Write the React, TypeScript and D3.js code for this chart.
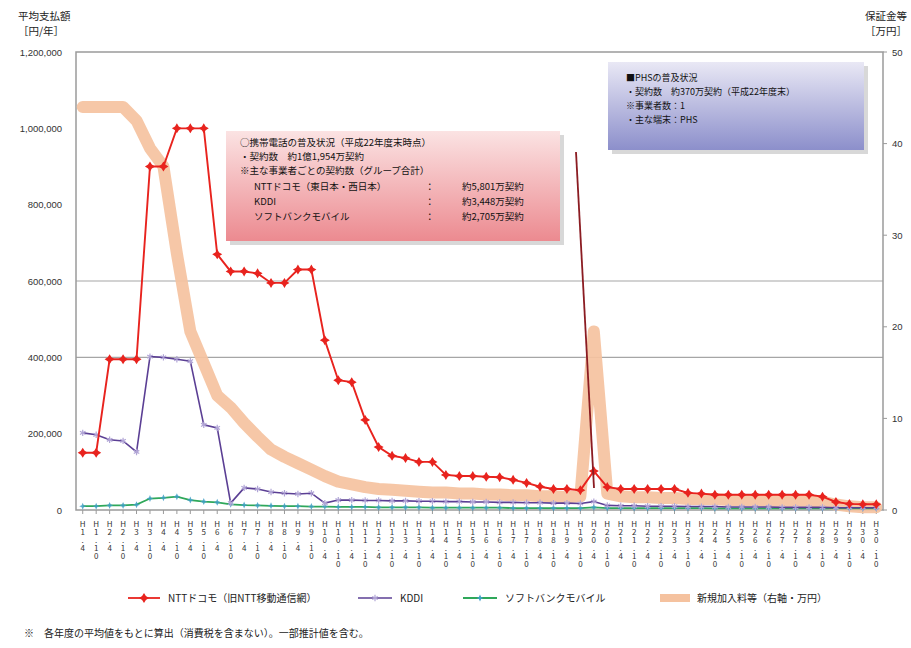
import React from 'react';
import * as d3 from 'd3';

// half-year points (April / October)
const periods = [
  'H1.4', 'H1.10', 'H2.4', 'H2.10', 'H3.4', 'H3.10', 'H4.4', 'H4.10', 'H5.4', 'H5.10',
  'H6.4', 'H6.10', 'H7.4', 'H7.10', 'H8.4', 'H8.10', 'H9.4', 'H9.10', 'H10.4', 'H10.10',
  'H11.4', 'H11.10', 'H12.4', 'H12.10', 'H13.4', 'H13.10', 'H14.4', 'H14.10', 'H15.4', 'H15.10',
  'H16.4', 'H16.10', 'H17.4', 'H17.10', 'H18.4', 'H18.10', 'H19.4', 'H19.10', 'H20.4', 'H20.10',
  'H21.4', 'H21.10', 'H22.4', 'H22.10', 'H23.4', 'H23.10', 'H24.4', 'H24.10', 'H25.4', 'H25.10',
  'H26.4', 'H26.10', 'H27.4', 'H27.10', 'H28.4', 'H28.10', 'H29.4', 'H29.10', 'H30.4', 'H30.10',
];

// left axis [円/年]
const docomo = [
  150000, 150000, 395000, 395000, 395000, 900000, 900000, 1000000, 1000000, 1000000,
  670000, 625000, 625000, 620000, 595000, 595000, 630000, 630000, 445000, 340000,
  335000, 236000, 165000, 142000, 136000, 126000, 126000, 92000, 89000, 89000,
  87000, 86000, 79000, 71000, 61000, 55000, 55000, 52000, 102000, 60000,
  55000, 55000, 55000, 55000, 55000, 45000, 43000, 40000, 40000, 40000,
  40000, 40000, 40000, 40000, 40000, 35000, 21000, 16000, 15000, 15000,
];
const kddi = [
  202000, 197000, 184000, 181000, 152000, 402000, 400000, 395000, 390000, 223000,
  215000, 18000, 58000, 55000, 47000, 44000, 42000, 44000, 18000, 26000,
  26000, 25000, 25000, 24000, 24000, 23000, 23000, 22000, 22000, 21000,
  21000, 20000, 20000, 19000, 19000, 18000, 18000, 17000, 22000, 12000,
  11000, 11000, 10000, 10000, 10000, 9000, 9000, 9000, 8000, 8000,
  8000, 8000, 7000, 7000, 7000, 7000, 6000, 6000, 6000, 6000,
];
const softbank = [
  10000, 10000, 12000, 12000, 14000, 30000, 32000, 35000, 26000, 22000,
  20000, 15000, 13000, 12000, 11000, 10000, 10000, 9000, 9000, 8000,
  8000, 8000, 7000, 7000, 7000, 7000, 6000, 6000, 6000, 6000,
  6000, 6000, 5000, 5000, 5000, 5000, 5000, 5000, 7000, 5000,
  5000, 5000, 5000, 5000, 5000, 5000, 5000, 4000, 4000, 4000,
  4000, 4000, 4000, 4000, 4000, 4000, 4000, 4000, 4000, 4000,
];
// right axis [万円]
const fee = [
  44.0, 44.0, 44.0, 44.0, 42.5, 39.5, 37.5, 28.0, 19.5, 16.0,
  12.5, 11.2, 9.5, 8.0, 6.6, 5.8, 5.1, 4.4, 3.7, 3.1,
  2.8, 2.5, 2.3, 2.2, 2.1, 2.0, 1.9, 1.9, 1.8, 1.8,
  1.7, 1.7, 1.6, 1.6, 1.5, 1.5, 1.4, 1.5, 19.5, 1.8,
  1.5, 1.4, 1.4, 1.3, 1.3, 1.2, 1.2, 1.2, 1.1, 1.1,
  1.1, 1.0, 1.0, 1.0, 1.0, 0.9, 0.6, 0.4, 0.3, 0.3,
];

const leftTicks = [0, 200000, 400000, 600000, 800000, 1000000, 1200000];
const rightTicks = [0, 10, 20, 30, 40, 50];
const gridValues = [400000, 600000];

const legendLabels = [
  'NTTドコモ（旧NTT移動通信網）',
  'KDDI',
  'ソフトバンクモバイル',
  '新規加入料等（右軸・万円）',
];

const redBoxLines = [
  '○携帯電話の普及状況（平成22年度末時点）',
  '・契約数　約1億1,954万契約',
  '※主な事業者ごとの契約数（グループ合計）',
];
const redBoxRows = [
  ['NTTドコモ（東日本・西日本）', '：', '約5,801万契約'],
  ['KDDI', '：', '約3,448万契約'],
  ['ソフトバンクモバイル', '：', '約2,705万契約'],
];
const blueBoxLines = [
  '■PHSの普及状況',
  '・契約数　約370万契約（平成22年度末）',
  '※事業者数：1',
  '・主な端末：PHS',
];

const JP = '"Noto Sans CJK JP", "Noto Sans", sans-serif';

const W = 911;
const H = 648;
const plot = { left: 76, right: 883, top: 52, bottom: 510 };

const starPath = (r: number, k: number) => {
  const i = r * k;
  return `M0,${-r}L${i},${-i}L${r},0L${i},${i}L0,${r}L${-i},${i}L${-r},0L${-i},${-i}Z`;
};

const App: React.FC = () => {
  const x = d3.scaleBand<string>().domain(periods).range([plot.left, plot.right]);
  const cx = (p: string) => (x(p) ?? 0) + x.bandwidth() / 2;
  const yL = d3.scaleLinear().domain([0, 1200000]).range([plot.bottom, plot.top]);
  const yR = d3.scaleLinear().domain([0, 50]).range([plot.bottom, plot.top]);

  const lineL = d3.line<number>().x((_, i) => cx(periods[i])).y(d => yL(d));
  const lineR = d3.line<number>().x((_, i) => cx(periods[i])).y(d => yR(d));

  const fmt = d3.format(',');
  const red = '#e8231e';
  const purple = '#5b3f94';
  const green = '#2fa85a';
  const orange = '#f5c29f';

  const star = starPath(5, 0.38);
  const smallStar = starPath(3.5, 0.3);
  const asterisk = d3.symbol(d3.symbolAsterisk, 28)() ?? '';

  return (
    <svg width={W} height={H} style={{ position: 'absolute', left: 0, top: 0, background: '#fff' }}
      fontFamily={JP}>
      <defs>
        <linearGradient id="redBox" x1="0" y1="0" x2="0" y2="1">
          <stop offset="0" stopColor="#fbe3e3" />
          <stop offset="1" stopColor="#ec8a90" />
        </linearGradient>
        <linearGradient id="blueBox" x1="0" y1="0" x2="0" y2="1">
          <stop offset="0" stopColor="#e9e8f5" />
          <stop offset="1" stopColor="#8c8fcb" />
        </linearGradient>
      </defs>

      {/* gridlines */}
      {gridValues.map(v => (
        <line key={v} x1={plot.left} x2={plot.right} y1={yL(v)} y2={yL(v)} stroke="#a6a6a6" strokeWidth={1.2} />
      ))}

      {/* frame */}
      <rect x={plot.left} y={plot.top} width={plot.right - plot.left} height={plot.bottom - plot.top}
        fill="none" stroke="#9a9a9a" strokeWidth={1.5} />

      {/* left ticks */}
      {leftTicks.map(t => (
        <text key={t} x={62} y={yL(t) + 3.5} textAnchor="end" fontSize={9.5} fill="#333"
          fontFamily="'Liberation Sans', Arial, sans-serif">{fmt(t)}</text>
      ))}
      {/* right ticks */}
      {rightTicks.map(t => (
        <g key={t}>
          <line x1={plot.right} x2={plot.right + 4} y1={yR(t)} y2={yR(t)} stroke="#9a9a9a" />
          <text x={892} y={yR(t) + 3.5} fontSize={9.5} fill="#333"
            fontFamily="'Liberation Sans', Arial, sans-serif">{t}</text>
        </g>
      ))}

      {/* axis titles */}
      <text x={18} y={20} fontSize={10.5} fill="#222">平均支払額</text>
      <text x={18} y={35} fontSize={10.5} fill="#222">［円/年］</text>
      <text x={907} y={20} fontSize={10.5} fill="#222" textAnchor="end">保証金等</text>
      <text x={907} y={35} fontSize={10.5} fill="#222" textAnchor="end">［万円］</text>

      {/* x ticks and labels */}
      {periods.map(p => (
        <g key={p}>
          <line x1={cx(p)} x2={cx(p)} y1={plot.bottom} y2={plot.bottom + 4} stroke="#9a9a9a" />
          <text x={cx(p)} y={plot.bottom + 10} fontSize={8} fill="#333"
            style={{ writingMode: 'vertical-rl', textOrientation: 'upright' } as React.CSSProperties}
            fontFamily={JP}>{p}</text>
        </g>
      ))}

      {/* series: right axis thick line */}
      <path d={lineR(fee) ?? ''} fill="none" stroke={orange} strokeWidth={12} strokeLinecap="round"
        strokeLinejoin="round" opacity={0.92} />

      {/* softbank */}
      <path d={lineL(softbank) ?? ''} fill="none" stroke={green} strokeWidth={1.8} />
      {softbank.map((v, i) => (
        <path key={i} d={smallStar} transform={`translate(${cx(periods[i])},${yL(v)})`} fill="#3f9fc4" opacity={0.85} />
      ))}

      {/* kddi */}
      <path d={lineL(kddi) ?? ''} fill="none" stroke={purple} strokeWidth={1.6} />
      {kddi.map((v, i) => (
        <path key={i} d={asterisk} transform={`translate(${cx(periods[i])},${yL(v)})`}
          fill="none" stroke="#b1a5d6" strokeWidth={1.2} />
      ))}

      {/* docomo */}
      <path d={lineL(docomo) ?? ''} fill="none" stroke={red} strokeWidth={1.9} />
      {docomo.map((v, i) => (
        <path key={i} d={star} transform={`translate(${cx(periods[i])},${yL(v)})`} fill={red} />
      ))}

      {/* red annotation box */}
      <rect x={230} y={135} width={334} height={110} fill="#c8c8c8" opacity={0.7} />
      <rect x={226} y={131} width={334} height={110} fill="url(#redBox)" />
      {redBoxLines.map((t, i) => (
        <text key={t} x={240} y={146 + i * 14} fontSize={9.5} fill="#111">{t}</text>
      ))}
      {redBoxRows.map((r, i) => (
        <g key={r[0]} fontSize={9.5} fill="#111">
          <text x={254} y={190 + i * 15}>{r[0]}</text>
          <text x={425} y={190 + i * 15}>{r[1]}</text>
          <text x={462} y={190 + i * 15}>{r[2]}</text>
        </g>
      ))}
      {/* leader line */}
      <line x1={576} y1={152} x2={594} y2={488} stroke="#8b1c22" strokeWidth={1.8} />

      {/* blue annotation box */}
      <rect x={612} y={66} width={256} height={88} fill="#c8c8c8" opacity={0.7} />
      <rect x={608} y={62} width={256} height={88} fill="url(#blueBox)" />
      {blueBoxLines.map((t, i) => (
        <text key={t} x={626} y={81 + i * 14} fontSize={9} fill="#111">{t}</text>
      ))}

      {/* legend */}
      <g fontSize={10} fill="#222">
        <line x1={128} x2={160} y1={598} y2={598} stroke={red} strokeWidth={1.8} />
        <path d={star} transform="translate(144,598)" fill={red} />
        <text x={168} y={602}>{legendLabels[0]}</text>

        <line x1={358} x2={392} y1={598} y2={598} stroke={purple} strokeWidth={1.6} />
        <path d={asterisk} transform="translate(375,598)" fill="none" stroke="#b1a5d6" strokeWidth={1.2} />
        <text x={400} y={602}>{legendLabels[1]}</text>

        <line x1={463} x2={497} y1={598} y2={598} stroke={green} strokeWidth={1.8} />
        <path d={smallStar} transform="translate(480,598)" fill="#3f9fc4" />
        <text x={505} y={602}>{legendLabels[2]}</text>

        <line x1={660} x2={690} y1={598} y2={598} stroke={orange} strokeWidth={8} />
        <text x={697} y={602}>{legendLabels[3]}</text>
      </g>

      {/* footnote */}
      <text x={24} y={637} fontSize={10} fill="#222">
        ※　各年度の平均値をもとに算出（消費税を含まない）。一部推計値を含む。
      </text>
    </svg>
  );
};

export default App;
